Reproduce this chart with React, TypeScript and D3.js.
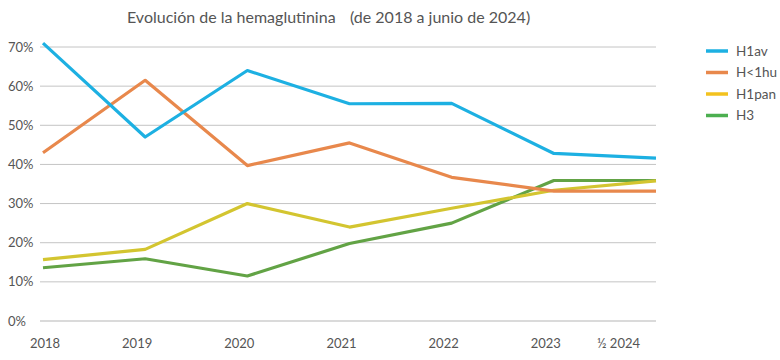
import * as d3 from 'd3';

const years = ['2018', '2019', '2020', '2021', '2022', '2023', '½ 2024'];
const yTicks = [0, 10, 20, 30, 40, 50, 60, 70];

const seriesNames = ['H1av', 'H<1hu', 'H1pan', 'H3'];
const seriesColors = ['#1db0e2', '#e8884c', '#d3c530', '#62a345'];
const legendColors = ['#1db0e2', '#e8884c', '#f3c21e', '#4caf50'];

const h1av = [71, 47, 64, 55.5, 55.6, 42.8, 41.6];
const hLess1hu = [43, 61.5, 39.7, 45.5, 36.7, 33.2, 33.2];
const h1pan = [15.7, 18.3, 30, 24, 28.8, 33.4, 35.8];
const h3 = [13.6, 15.9, 11.5, 19.8, 25, 35.9, 35.9];

const allSeries = [h1av, hLess1hu, h1pan, h3];

const W = 780, H = 360;
const left = 43, right = 656, top = 47, bottom = 321;

export default function App() {
    const x = d3.scalePoint<string>().domain(years).range([left, right]);
    const y = d3.scaleLinear().domain([0, 70]).range([bottom, top]);

    const line = d3.line<number>()
        .x((_, i) => x(years[i])!)
        .y(d => y(d));

    const font = 'Lato, "Open Sans", sans-serif';

    return (
        <svg width={W} height={H} style={{ position: 'absolute', left: 0, top: 0, background: '#fff' }} fontFamily={font}>
            <text y={23} fontSize={16} fill="#555">
                <tspan x={127}>Evolución de la hemaglutinina</tspan>
                <tspan x={350}>(de 2018 a junio de 2024)</tspan>
            </text>

            {/* grid + y labels */}
            {yTicks.map(t => (
                <g key={t}>
                    <line x1={40} x2={656} y1={y(t)} y2={y(t)} stroke={t === 0 ? '#b5b5b5' : '#c4c4c4'} strokeWidth={1} />
                    <text x={8} y={y(t)} dy="0.35em" fontSize={13} fill="#555">{t}%</text>
                </g>
            ))}

            {/* x labels */}
            {years.map((yr, i) => {
                const last = i === years.length - 1;
                const first = i === 0;
                return (
                    <text key={yr}
                        x={x(yr)! + (first ? 2 : last ? -16 : -8)}
                        y={348}
                        textAnchor={last ? 'end' : 'middle'}
                        fontSize={13} fill="#555">{yr}</text>
                );
            })}

            {/* lines, drawn bottom-up so H1av is on top */}
            {[3, 2, 1, 0].map(i => (
                <path key={seriesNames[i]} d={line(allSeries[i])!} fill="none"
                    stroke={seriesColors[i]} strokeWidth={3.2} strokeLinejoin="round" />
            ))}

            {/* legend */}
            {seriesNames.map((name, i) => (
                <g key={name} transform={`translate(706, ${51 + i * 21.5})`}>
                    <line x1={0} x2={22} y1={0} y2={0} stroke={legendColors[i]} strokeWidth={3.5} />
                    <text x={30} y={0} dy="0.35em" fontSize={13.5} fill="#555">{name}</text>
                </g>
            ))}
        </svg>
    );
}
